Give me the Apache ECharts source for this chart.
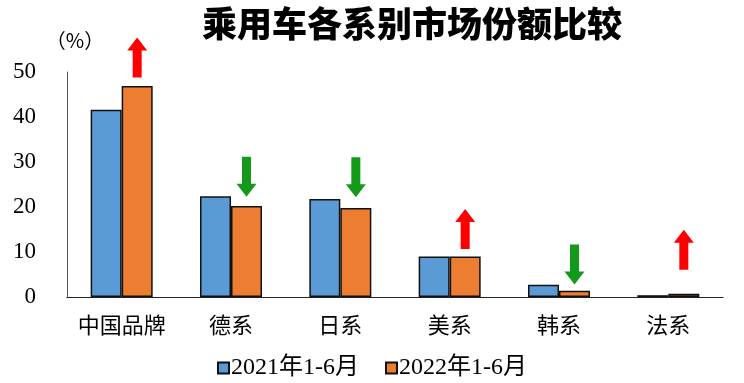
<!DOCTYPE html>
<html><head><meta charset="utf-8">
<script src="https://cdn.jsdelivr.net/npm/echarts@6/dist/echarts.min.js"></script>
<style>html,body{margin:0;padding:0;background:#fff}#c{width:744px;height:383px}</style>
</head><body><div id="c"></div>
<script>
const categories = ['中国品牌','德系','日系','美系','韩系','法系'];
const seriesNames = ['2021年1-6月','2022年1-6月'];
const share2021 = [41.6, 22.4, 21.8, 9.0, 2.7, 0.4];
const share2022 = [46.9, 20.2, 19.8, 9.0, 1.4, 0.7];
const arrowDir = ['up','down','down','up','down','up'];
const arrowLevel = [53.2, 26.7, 26.6, 15.1, 7.2, 10.5];
const yTicks = [0,10,20,30,40,50];

const upPath = 'path://M5.5,13 L5.5,40 L14.5,40 L14.5,13 L20,13 L10,0 L0,13 Z';
const chart = echarts.init(document.getElementById('c'));
chart.setOption({
  animation:false,
  title:{text:'乘用车各系别市场份额比较',left:407,top:1,textAlign:'center',
    textStyle:{fontFamily:'Noto Sans CJK SC',fontWeight:900,fontSize:35,color:'#000'}},
  legend:{bottom:-2,left:'center',itemWidth:11,itemHeight:11,itemGap:26,icon:'rect',
    textStyle:{fontFamily:'Liberation Serif, Noto Sans CJK SC',fontSize:24,color:'#000',padding:[0,0,0,-3]},
    data:seriesNames},
  grid:{left:67,right:21,top:72,bottom:86},
  xAxis:{type:'category',data:categories,
    axisLine:{lineStyle:{color:'#222',width:1.2}},axisTick:{show:false},
    axisLabel:{interval:0,fontFamily:'Noto Sans CJK SC',fontSize:22,color:'#000',margin:17}},
  yAxis:{type:'value',min:0,max:50,interval:10,name:'（%）',nameLocation:'end',nameGap:22,
    nameTextStyle:{fontFamily:'Noto Sans CJK SC',fontSize:20,color:'#000',align:'center',padding:[0,0,0,16]},
    axisLine:{show:true,lineStyle:{color:'#555',width:1}},axisTick:{show:false},splitLine:{show:false},
    axisLabel:{fontFamily:'Liberation Serif',fontSize:23,color:'#000',margin:31,
      formatter:v=>yTicks.includes(v)?String(v):''}},
  series:[
    {name:seriesNames[0],type:'bar',data:share2021,barWidth:31,barGap:'0%',
      itemStyle:{color:'#5B9BD5',borderColor:'#111',borderWidth:1.5}},
    {name:seriesNames[1],type:'bar',data:share2022,barWidth:31,barGap:'0%',
      itemStyle:{color:'#ED7D31',borderColor:'#111',borderWidth:1.5}},
    {type:'scatter',z:5,clip:false,silent:true,symbol:upPath,symbolSize:[20,40],
      symbolOffset:[15.5,0],
      data:arrowLevel.map((v,i)=>({value:[i,v],symbolRotate:arrowDir[i]==='up'?0:180,
        itemStyle:{opacity:1,color:arrowDir[i]==='up'?'#FF0000':'#139A1B'}}))}
  ]
});
</script></body></html>
